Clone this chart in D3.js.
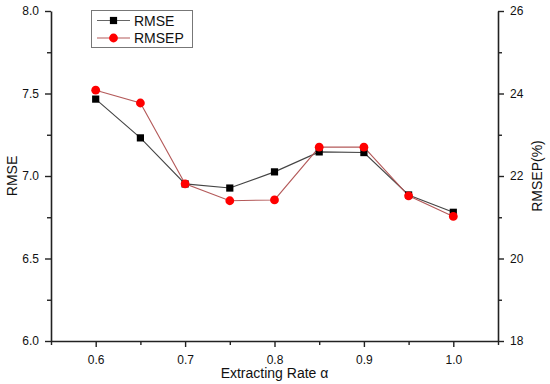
<!DOCTYPE html>
<html><head><meta charset="utf-8">
<script src="https://cdn.jsdelivr.net/npm/d3@7"></script>
<style>
html,body{margin:0;padding:0;background:#fff;}
svg{display:block;font-family:Arial,"Liberation Sans",sans-serif;}
</style></head>
<body>
<svg id="chart" width="550" height="384"></svg>
<script>
const rates = [0.6, 0.65, 0.7, 0.75, 0.8, 0.85, 0.9, 0.95, 1.0];
const rmse = [7.466, 7.231, 6.952, 6.927, 7.025, 7.146, 7.142, 6.885, 6.78];
const rmsep = [24.08, 23.77, 21.81, 21.40, 21.42, 22.70, 22.70, 21.52, 21.02];
const xTicks = [0.6, 0.7, 0.8, 0.9, 1.0];
const xMinor = [0.55, 0.65, 0.75, 0.85, 0.95, 1.05];
const yLeftTicks = [6.0, 6.5, 7.0, 7.5, 8.0];
const yLeftMinor = [6.25, 6.75, 7.25, 7.75];
const yRightTicks = [18, 20, 22, 24, 26];
const yRightMinor = [19, 21, 23, 25];
const seriesNames = ["RMSE", "RMSEP"];

const svg = d3.select("#chart");
const L = 51, R = 498, T = 11, B = 341;
const x = d3.scaleLinear().domain([0.55, 1.05]).range([L, R]);
const yL = d3.scaleLinear().domain([6, 8]).range([B, T]);
const yR = d3.scaleLinear().domain([18, 26]).range([B, T]);
const axisColor = "#222";

function styleAxis(g){
  g.select(".domain").attr("stroke", axisColor).attr("stroke-width", 1.6);
  g.selectAll(".tick line").attr("stroke", axisColor).attr("stroke-width", 1.4);
  g.selectAll(".tick text").attr("fill", "#111").attr("font-size", 12).attr("font-family", "Arial, 'Liberation Sans', sans-serif");
}

// minor ticks
svg.append("g").attr("transform", `translate(0,${B})`)
  .call(d3.axisBottom(x).tickValues(xMinor).tickSize(4).tickFormat(""))
  .call(g => { g.select(".domain").remove(); g.selectAll(".tick line").attr("stroke", axisColor).attr("stroke-width", 1.4); });
svg.append("g").attr("transform", `translate(${L},0)`)
  .call(d3.axisLeft(yL).tickValues(yLeftMinor).tickSize(4).tickFormat(""))
  .call(g => { g.select(".domain").remove(); g.selectAll(".tick line").attr("stroke", axisColor).attr("stroke-width", 1.4); });
svg.append("g").attr("transform", `translate(${R},0)`)
  .call(d3.axisRight(yR).tickValues(yRightMinor).tickSize(4).tickFormat(""))
  .call(g => { g.select(".domain").remove(); g.selectAll(".tick line").attr("stroke", axisColor).attr("stroke-width", 1.4); });

// major axes
svg.append("g").attr("transform", `translate(0,${B})`)
  .call(d3.axisBottom(x).tickValues(xTicks).tickSize(6).tickPadding(8).tickSizeOuter(0).tickFormat(d3.format(".1f")))
  .call(styleAxis);
svg.append("g").attr("transform", `translate(${L},0)`)
  .call(d3.axisLeft(yL).tickValues(yLeftTicks).tickSize(6).tickPadding(6).tickSizeOuter(0).tickFormat(d3.format(".1f")))
  .call(styleAxis);
svg.append("g").attr("transform", `translate(${R},0)`)
  .call(d3.axisRight(yR).tickValues(yRightTicks).tickSize(6).tickPadding(6).tickSizeOuter(0).tickFormat(d3.format("d")))
  .call(styleAxis);

// axis titles
svg.append("text").attr("x", (L + R) / 2).attr("y", 378).attr("text-anchor", "middle")
  .attr("font-size", 14).attr("fill", "#111").text("Extracting Rate α");
svg.append("text").attr("transform", `translate(17,${(T + B) / 2}) rotate(-90)`).attr("text-anchor", "middle")
  .attr("font-size", 14).attr("fill", "#111").text("RMSE");
svg.append("text").attr("transform", `translate(542,${(T + B) / 2}) rotate(-90)`).attr("text-anchor", "middle")
  .attr("font-size", 14).attr("fill", "#111").text("RMSEP(%)");

// lines
const lineL = d3.line().x((d, i) => x(rates[i])).y(d => yL(d));
const lineR = d3.line().x((d, i) => x(rates[i])).y(d => yR(d));
svg.append("path").datum(rmse).attr("d", lineL).attr("fill", "none").attr("stroke", "#444").attr("stroke-width", 1.1);
svg.append("path").datum(rmsep).attr("d", lineR).attr("fill", "none").attr("stroke", "#b45a5a").attr("stroke-width", 1.1);

// markers
svg.append("g").selectAll("rect").data(rmse).join("rect")
  .attr("x", (d, i) => x(rates[i]) - 3.6).attr("y", d => yL(d) - 3.6)
  .attr("width", 7.2).attr("height", 7.2).attr("fill", "#000");
svg.append("g").selectAll("circle").data(rmsep).join("circle")
  .attr("cx", (d, i) => x(rates[i])).attr("cy", d => yR(d)).attr("r", 4.4).attr("fill", "#f00");

// legend
const lg = svg.append("g");
lg.append("rect").attr("x", 91.5).attr("y", 10.5).attr("width", 101).attr("height", 37)
  .attr("fill", "#fff").attr("stroke", "#777").attr("stroke-width", 1);
const legY = [20.5, 38];
lg.append("line").attr("x1", 97).attr("x2", 130).attr("y1", legY[0]).attr("y2", legY[0]).attr("stroke", "#666").attr("stroke-width", 1.1);
lg.append("rect").attr("x", 113.5 - 3.6).attr("y", legY[0] - 3.6).attr("width", 7.2).attr("height", 7.2).attr("fill", "#000");
lg.append("line").attr("x1", 97).attr("x2", 130).attr("y1", legY[1]).attr("y2", legY[1]).attr("stroke", "#b45a5a").attr("stroke-width", 1.1);
lg.append("circle").attr("cx", 113.5).attr("cy", legY[1]).attr("r", 4.4).attr("fill", "#f00");
lg.selectAll("text.leg").data(seriesNames).join("text").attr("class", "leg")
  .attr("x", 134).attr("y", (d, i) => legY[i] + 5).attr("font-size", 14).attr("fill", "#111").text(d => d);
</script>
</body></html>
